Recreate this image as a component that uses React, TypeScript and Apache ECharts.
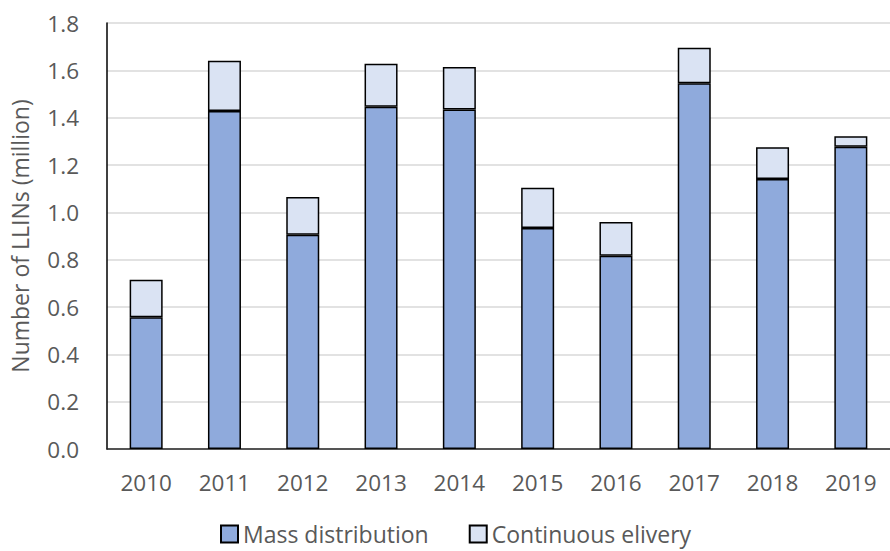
import React, { useEffect, useRef } from "react";
import * as echarts from "echarts";

// Long-lasting insecticidal nets distributed per year, in millions
const years = ["2010", "2011", "2012", "2013", "2014", "2015", "2016", "2017", "2018", "2019"];
const massDistribution = [0.557, 1.428, 0.905, 1.446, 1.434, 0.934, 0.817, 1.545, 1.141, 1.277];
const continuousDelivery = [0.158, 0.212, 0.16, 0.182, 0.18, 0.17, 0.142, 0.15, 0.134, 0.044];
const seriesNames = ["Mass distribution", "Continuous elivery"];
const yAxisTitle = "Number of LLINs (million)";

const FONT = "'Open Sans', 'Noto Sans', sans-serif";
const TEXT = "#595959";

export default function App() {
  const ref = useRef<HTMLDivElement>(null);

  useEffect(() => {
    if (!ref.current) return;
    const chart = echarts.init(ref.current, undefined, { renderer: "svg" });
    chart.setOption({
      animation: false,
      backgroundColor: "#ffffff",
      textStyle: { fontFamily: FONT, color: TEXT },
      grid: { left: 104, right: -11, top: 23, bottom: 102, containLabel: false },
      legend: {
        bottom: 0,
        left: 215,
        padding: [5, 5, 3, 5],
        itemWidth: 17,
        itemHeight: 17,
        itemGap: 40,
        icon: "rect",
        textStyle: { fontFamily: FONT, fontSize: 23, lineHeight: 28, color: TEXT },
        data: seriesNames,
      },
      xAxis: {
        type: "category",
        data: years,
        axisLine: { show: true, lineStyle: { color: "#262626", width: 1.5 } },
        axisTick: { show: false },
        axisLabel: { fontFamily: FONT, fontSize: 22.5, color: TEXT, margin: 22 },
      },
      yAxis: {
        type: "value",
        min: 0,
        max: 1.8,
        interval: 0.2,
        name: yAxisTitle,
        nameLocation: "middle",
        nameGap: 76,
        nameTextStyle: { fontFamily: FONT, fontSize: 23, color: TEXT },
        axisLine: { show: true, lineStyle: { color: "#000000", width: 1.5 } },
        axisTick: { show: false },
        axisLabel: {
          fontFamily: FONT,
          fontSize: 22.5,
          color: TEXT,
          margin: 28,
          formatter: (v: number) => v.toFixed(1),
        },
        splitLine: { show: true, lineStyle: { color: "#d9d9d9", width: 1.5 } },
      },
      series: [
        {
          name: seriesNames[0],
          type: "bar",
          stack: "total",
          barWidth: 33,
          data: massDistribution,
          itemStyle: { color: "#8faadc", borderColor: "#000000", borderWidth: 1.5 },
        },
        {
          name: seriesNames[1],
          type: "bar",
          stack: "total",
          barWidth: 33,
          data: continuousDelivery,
          itemStyle: { color: "#dae3f3", borderColor: "#000000", borderWidth: 1.5 },
        },
      ],
    });
    return () => chart.dispose();
  }, []);

  return (
    <div
      ref={ref}
      style={{ position: "fixed", left: 0, top: 0, width: 890, height: 551, background: "#fff" }}
    />
  );
}
